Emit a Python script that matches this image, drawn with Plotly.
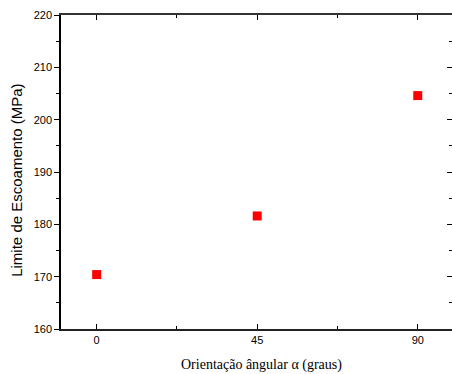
import plotly.graph_objects as go

orientation = [0, 45, 90]
yield_strength = [170.4, 181.6, 204.6]
x_ticks = [0, 45, 90]
y_ticks = [160, 170, 180, 190, 200, 210, 220]
x_title = "Orientação ângular α (graus)"
y_title = "Limite de Escoamento (MPa)"

X_RANGE = [-10, 99.6]
Y_RANGE = [160, 220]

fig = go.Figure()
fig.add_trace(go.Scatter(
    x=orientation, y=yield_strength, mode="markers",
    marker=dict(symbol="square", size=9, color="#ff0000"),
    showlegend=False,
))
# invisible trace on mirrored axes (top/right)
fig.add_trace(go.Scatter(x=[None], y=[None], xaxis="x2", yaxis="y2",
                         showlegend=False, hoverinfo="skip"))

tickfont = dict(family="Liberation Sans, Arial, sans-serif", size=11, color="#000")

fig.update_layout(
    width=452, height=374,
    margin=dict(l=61, r=0, t=15, b=44.5),
    paper_bgcolor="white", plot_bgcolor="white",
    xaxis=dict(
        range=X_RANGE, tickvals=x_ticks, ticktext=[str(v) for v in x_ticks],
        ticks="inside", ticklen=5, tickwidth=1, tickcolor="#000",
        minor=dict(dtick=22.5, tick0=0, ticks="inside", ticklen=3, tickcolor="#000"),
        showline=True, linecolor="#222", linewidth=1.5,
        showgrid=False, zeroline=False, tickfont=tickfont,
    ),
    yaxis=dict(
        range=Y_RANGE, tickvals=y_ticks,
        ticks="outside", ticklen=5, tickwidth=1, tickcolor="#000",
        minor=dict(dtick=5, tick0=160, ticks="outside", ticklen=3, tickcolor="#000"),
        showline=True, linecolor="#000", linewidth=1.5,
        showgrid=False, zeroline=False, tickfont=tickfont,
    ),
    xaxis2=dict(
        range=X_RANGE, overlaying="x", side="top", tickvals=x_ticks,
        showticklabels=False, ticks="inside", ticklen=5, tickcolor="#000",
        minor=dict(dtick=22.5, tick0=0, ticks="inside", ticklen=3, tickcolor="#000"),
        showline=True, linecolor="#333", linewidth=1.5,
        showgrid=False, zeroline=False,
    ),
    yaxis2=dict(
        range=Y_RANGE, overlaying="y", side="right", tickvals=y_ticks,
        showticklabels=False, ticks="inside", ticklen=5, tickcolor="#000",
        minor=dict(dtick=5, tick0=160, ticks="inside", ticklen=3, tickcolor="#000"),
        showline=False, showgrid=False, zeroline=False,
    ),
    annotations=[
        dict(text=x_title, xref="paper", yref="paper", x=0.514, y=-0.116,
             xanchor="center", yanchor="middle", showarrow=False,
             font=dict(family="Times New Roman, Liberation Serif, DejaVu Serif, serif", size=14, color="#000")),
        dict(text=y_title, xref="paper", yref="paper", x=-0.1125, y=0.472,
             xanchor="center", yanchor="middle", showarrow=False, textangle=-90,
             font=dict(family="Liberation Sans, Arial, sans-serif", size=15, color="#000")),
    ],
)

fig.write_html("out.html")
